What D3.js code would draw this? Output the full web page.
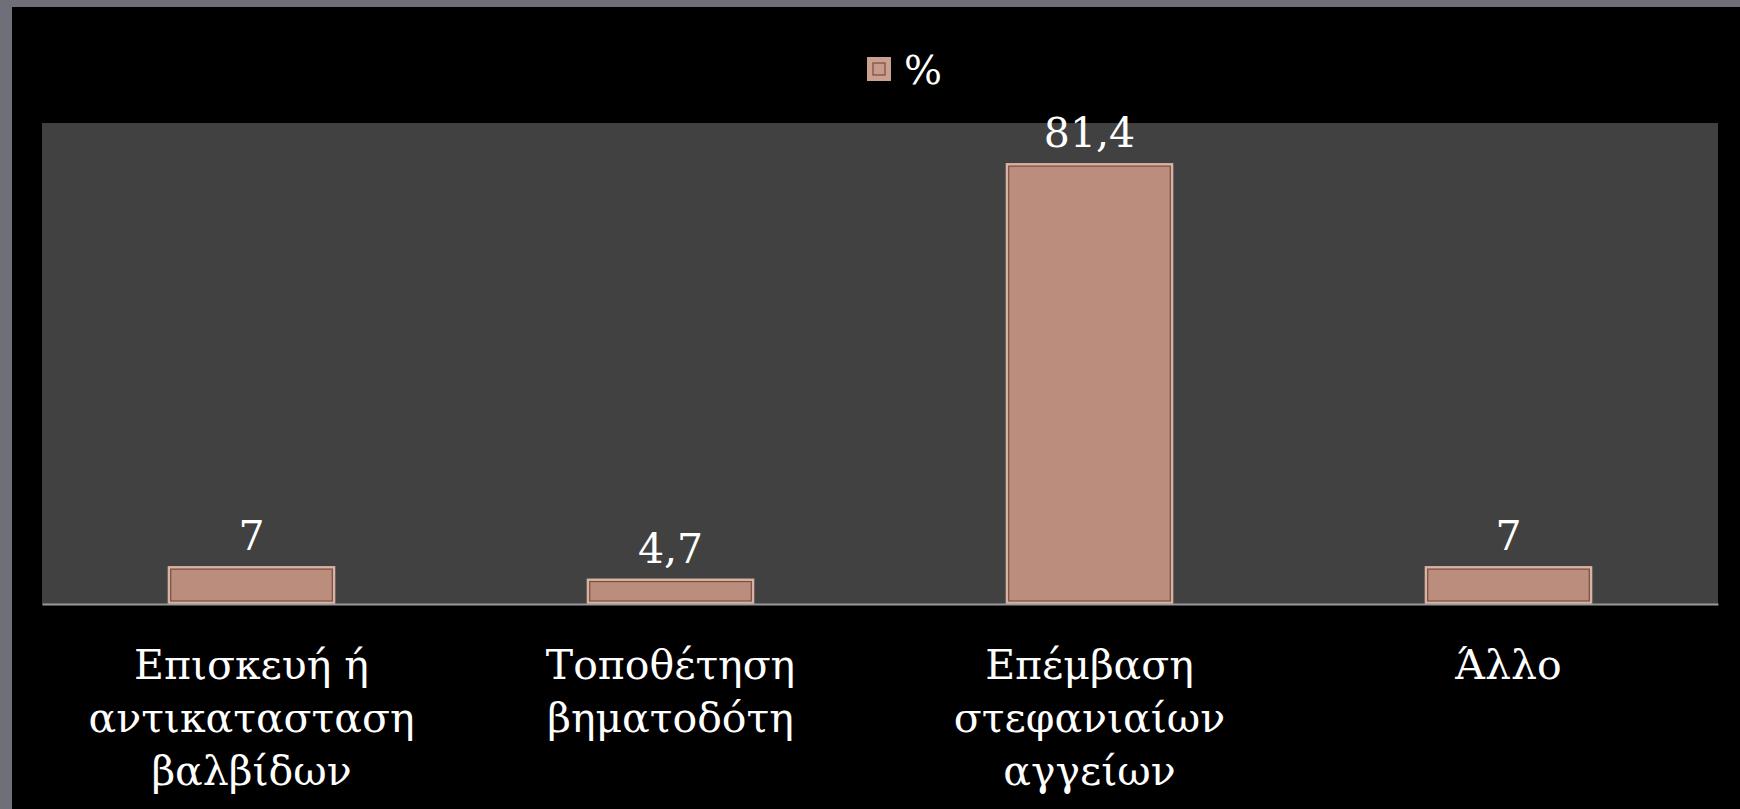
<!DOCTYPE html>
<html>
<head>
<meta charset="utf-8">
<script src="https://cdn.jsdelivr.net/npm/d3@7"></script>
<style>
  html, body { margin: 0; padding: 0; background: #6f6f79; }
  svg { display: block; }
</style>
</head>
<body>
<svg id="chart" width="1740" height="809"></svg>
<script>
// Chart data
const categories = [
  ["Επισκευή ή", "αντικατασταση", "βαλβίδων"],
  ["Τοποθέτηση", "βηματοδότη"],
  ["Επέμβαση", "στεφανιαίων", "αγγείων"],
  ["Άλλο"]
];
const values = [7, 4.7, 81.4, 7];
const valueLabels = ["7", "4,7", "81,4", "7"];
const seriesName = "%";
const yMax = 88.8;

const W = 1740, H = 809;
const svg = d3.select("#chart");

// dark slide background
svg.append("rect").attr("x", 12).attr("y", 7).attr("width", W - 12).attr("height", H - 7).attr("fill", "#000");

const plot = { left: 42, right: 1718, top: 123, bottom: 604 };

svg.append("rect")
  .attr("x", plot.left).attr("y", plot.top)
  .attr("width", plot.right - plot.left).attr("height", plot.bottom - plot.top)
  .attr("fill", "#414141");

const x = d3.scaleBand().domain(d3.range(categories.length)).range([plot.left, plot.right]).padding(0);
const y = d3.scaleLinear().domain([0, yMax]).range([plot.bottom, plot.top]);

const barW = x.bandwidth() * 0.4;
const font = "'DejaVu Serif', serif";

const bars = svg.append("g");
values.forEach((v, i) => {
  const cx = x(i) + x.bandwidth() / 2;
  const x0 = cx - barW / 2, y0 = y(v), h = y(0) - y(v);
  bars.append("rect")
    .attr("x", x0).attr("y", y0).attr("width", barW).attr("height", h)
    .attr("fill", "#d6b4a5");
  bars.append("rect")
    .attr("x", x0 + 3).attr("y", y0 + 3).attr("width", barW - 6).attr("height", Math.max(0, h - 6))
    .attr("fill", "#bb8d7c")
    .attr("stroke", "#7c4c3c").attr("stroke-width", 1.2);
  svg.append("text")
    .attr("x", cx).attr("y", y0 - 16)
    .attr("text-anchor", "middle")
    .attr("font-family", font).attr("font-size", 41)
    .attr("fill", "#fff")
    .text(valueLabels[i]);
});

// category axis line
const xAxis = svg.append("g").attr("transform", `translate(0,${plot.bottom})`)
  .call(d3.axisBottom(x).tickSize(0).tickFormat(""));
xAxis.select(".domain").attr("stroke", "#9a9a9a").attr("stroke-width", 2);

// category labels
categories.forEach((lines, i) => {
  const cx = x(i) + x.bandwidth() / 2;
  const t = svg.append("text")
    .attr("text-anchor", "middle")
    .attr("font-family", font).attr("font-size", 41)
    .attr("fill", "#fff");
  lines.forEach((ln, k) => {
    t.append("tspan").attr("x", cx).attr("y", 679 + k * 53).text(ln);
  });
});

// legend
const lg = svg.append("g");
lg.append("rect").attr("x", 867).attr("y", 57).attr("width", 24).attr("height", 24).attr("fill", "#c9a091");
lg.append("rect").attr("x", 873).attr("y", 63).attr("width", 12).attr("height", 12)
  .attr("fill", "#c79a8c").attr("stroke", "#7c4c3c").attr("stroke-width", 1.2);
lg.append("text").attr("x", 904).attr("y", 84)
  .attr("font-family", font).attr("font-size", 40).attr("fill", "#fff").text(seriesName);
</script>
</body>
</html>
